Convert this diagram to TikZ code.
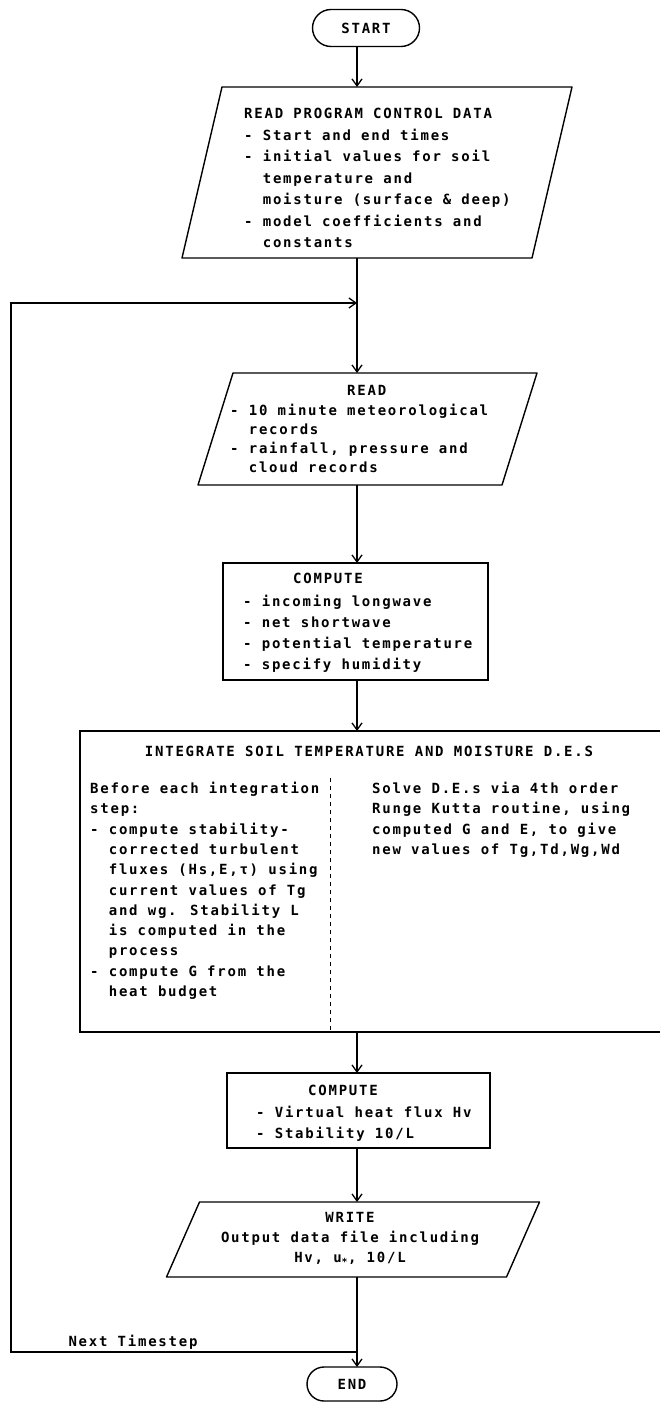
\documentclass[tikz,border=0pt]{standalone}
\usepackage{fontspec}
\newfontfamily\chartfont[LetterSpace=12.6]{DejaVu Sans Mono}
\usetikzlibrary{arrows.meta,shapes.misc}

% parallelogram outline around an (undrawn) rectangular node
\newcommand\slantoutline[2]{%
  \draw[outline] ([xshift=#2]#1.north west) -- ([xshift=#2]#1.north east)
    -- ([xshift=-#2]#1.south east) -- ([xshift=-#2]#1.south west) -- cycle;}

\begin{document}
\begin{tikzpicture}[x=1pt,y=-1pt,
  outline/.style={line width=1.4pt, line join=round},
  flow/.style={line width=1.4pt, -{Straight Barb[length=7pt,width=10pt,line width=1.3pt]}},
  frame/.style={inner sep=0pt, outer sep=0pt},
  procbox/.style={frame, draw, line width=1.4pt},
  terminal/.style={rounded rectangle, draw, line width=1.4pt, inner sep=0pt, outer sep=0pt, txtc},
  txtc/.style={font=\chartfont\bfseries\fontsize{14}{20.5}\selectfont, inner sep=0pt},
  txt/.style={txtc, align=left, anchor=north west},
]
\useasboundingbox (0,0) rectangle (660,1404);

\coordinate (spine) at (357,0);

% START
\node[terminal, minimum width=107pt, minimum height=37pt] (start) at (366,28) {START};

% READ PROGRAM CONTROL DATA
\node[frame, minimum width=350pt, minimum height=171pt] (p1) at (377,172.5) {};
\slantoutline{p1}{20pt}
\node[txt, font=\chartfont\bfseries\fontsize{14}{21.5}\selectfont] (p1text) at (244,108)
  {READ PROGRAM CONTROL DATA\\
   - Start and end times\\
   - initial values for soil\\
   \hphantom{- }temperature and\\
   \hphantom{- }moisture (surface \& deep)\\
   - model coefficients and\\
   \hphantom{- }constants};

% READ
\node[frame, minimum width=304pt, minimum height=112pt] (rd) at (367.5,429) {};
\slantoutline{rd}{17.5pt}
\node[txt] (rdhead) at (347,385) {READ};
\node[txt, font=\chartfont\bfseries\fontsize{14}{19}\selectfont] (rdbody) at (230,404)
  {- 10 minute meteorological\\
   \hphantom{- }records\\
   - rainfall, pressure and\\
   \hphantom{- }cloud records};

% COMPUTE (radiation and humidity)
\node[procbox, minimum width=265pt, minimum height=117pt] (c1) at (355.5,621.5) {};
\node[txt] (c1head) at (293,573) {COMPUTE};
\node[txt, font=\chartfont\bfseries\fontsize{14}{21}\selectfont] (c1body) at (243,595)
  {- incoming longwave\\
   - net shortwave\\
   - potential temperature\\
   - specify humidity};

% INTEGRATE
\node[procbox, minimum width=584pt, minimum height=301pt] (ig) at (372,881.5) {};
\node[txtc] (ighead) at (369,751) {INTEGRATE SOIL TEMPERATURE AND MOISTURE D.E.S};
\node[txt, font=\chartfont\bfseries\fontsize{14}{20.3}\selectfont] (igleft) at (90,782)
  {Before each integration\\
   step:\\
   - compute stability-\\
   \hphantom{- }corrected turbulent\\
   \hphantom{- }fluxes (Hs,E,τ) using\\
   \hphantom{- }current values of Tg\\
   \hphantom{- }and wg. Stability L\\
   \hphantom{- }is computed in the\\
   \hphantom{- }process\\
   - compute G from the\\
   \hphantom{- }heat budget};
\draw[line width=1pt, dash pattern=on 4pt off 4pt] (330,778) -- (330,1030);
\node[txt, font=\chartfont\bfseries\fontsize{14}{20.3}\selectfont] (igright) at (372,782)
  {Solve D.E.s via 4th order\\
   Runge Kutta routine, using\\
   computed G and E, to give\\
   new values of Tg,Td,Wg,Wd};

% COMPUTE (flux and stability)
\node[procbox, minimum width=263pt, minimum height=75pt] (c2) at (358.5,1110.5) {};
\node[txt] (c2head) at (308,1085) {COMPUTE};
\node[txt] (c2body) at (256,1106)
  {- Virtual heat flux Hv\\
   - Stability 10/L};

% WRITE
\node[frame, minimum width=340pt, minimum height=75pt] (wr) at (353,1239.5) {};
\slantoutline{wr}{16.5pt}
\node[txtc, align=center, font=\chartfont\bfseries\fontsize{14}{20}\selectfont] (wrtext) at (350,1239)
  {WRITE\\
   Output data file including\\
   Hv, u\textsubscript{*}, 10/L};

% END
\node[terminal, minimum width=90pt, minimum height=34pt] (end) at (352,1384) {END};

% loop-back path
\coordinate (merge) at (357,303);
\coordinate (back) at (357,1352);
\coordinate (loopB) at (11,1352);
\coordinate (loopT) at (11,303);
\node[txtc] (nexttext) at (133,1342) {Next Timestep};

% connectors
\draw[flow] (start.south -| spine) -- (p1.north -| spine);
\draw[flow] (p1.south -| spine) -- (rd.north -| spine);
\draw[flow] (rd.south -| spine) -- (c1.north -| spine);
\draw[flow] (c1.south -| spine) -- (ig.north -| spine);
\draw[flow] (ig.south -| spine) -- (c2.north -| spine);
\draw[flow] (c2.south -| spine) -- (wr.north -| spine);
\draw[flow] (wr.south -| spine) -- (end.north -| spine);
\draw[flow] (back) -- (loopB) -- (loopT) -- (merge);
\end{tikzpicture}
\end{document}
